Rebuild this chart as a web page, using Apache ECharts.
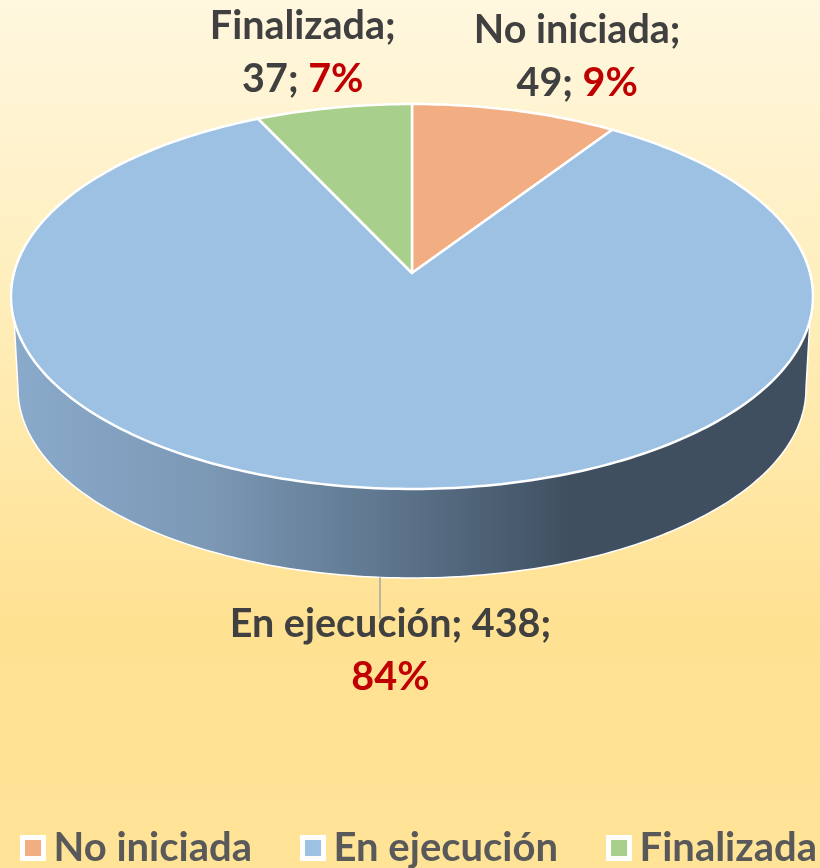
<!DOCTYPE html>
<html>
<head>
<meta charset="utf-8">
<script src="https://cdn.jsdelivr.net/npm/echarts@6/dist/echarts.min.js"></script>
<style>
  html, body { margin: 0; padding: 0; }
  #chart { width: 820px; height: 868px; }
</style>
</head>
<body>
<div id="chart"></div>
<script>
const categories = ["No iniciada", "En ejecución", "Finalizada"];
const values = [49, 438, 37];
const sliceColors = ["#f2ae82", "#9dc1e3", "#a9cf8c"];

const total = values.reduce((a, b) => a + b, 0);

// tilted disc: the circle is projected so that its centre sits above the middle of the ellipse
const disc = { cx: 412, cy: 273, a: 398, b: 189.6, k: 0.122 };
const rimScale = 0.9825;
const rimDrop = 92.8;
const FONT = "Lato, 'Noto Sans', sans-serif";

function project(deg) {
  const t = (deg * Math.PI) / 180;
  const u = Math.sin(t);
  const v = Math.cos(t);
  const w = 1 + disc.k * v;
  return [disc.cx + (disc.a * u) / w, disc.cy - (disc.b * v) / w];
}

function projectRim(deg) {
  const p = project(deg);
  return [
    disc.cx + (p[0] - disc.cx) * rimScale,
    disc.cy + rimDrop + (p[1] - disc.cy) * rimScale,
  ];
}

function sliceAngles(index) {
  let before = 0;
  for (let i = 0; i < index; i++) before += values[i];
  return [(before / total) * 360, ((before + values[index]) / total) * 360];
}

function slicePoints(start, end) {
  const pts = [[disc.cx, disc.cy]];
  for (let d = start; d < end; d += 1) pts.push(project(d));
  pts.push(project(end));
  return pts;
}

function wallShape() {
  const pts = [project(104)];
  for (let d = 97; d <= 263; d += 1) pts.push(projectRim(d));
  pts.push(project(256));
  return pts;
}

// label position relative to the middle of the slice's outer edge
const labelOffsets = [
  [62, -54],
  [11, 162],
  [-31, -55],
];

function labelText(index, value) {
  const pct = Math.round((value / total) * 100) + "%";
  if (index === 1) {
    return `{t|${categories[index]}; ${value};}\n{p|${pct}}`;
  }
  return `{t|${categories[index]};}\n{t|${value}; }{p|${pct}}`;
}

function makeRender(index) {
  return function (params, api) {
    const value = api.value(0);
    const [start, end] = sliceAngles(index);
    const mid = (start + end) / 2;
    const edge = project(mid);
    const children = [];

    if (index === 1) {
      const base = projectRim(mid);
      children.push({
        type: "polygon",
        shape: { points: wallShape() },
        style: {
          fill: {
            type: "linear",
            x: 0, y: 0, x2: 1, y2: 0,
            colorStops: [
              { offset: 0, color: "#8aaacb" },
              { offset: 0.24, color: "#7c99b6" },
              { offset: 0.46, color: "#5f778f" },
              { offset: 0.7, color: "#3f4f60" },
              { offset: 1, color: "#3f4f60" },
            ],
          },
          stroke: "#ffffff",
          lineWidth: 1.5,
          lineJoin: "round",
        },
      });
      children.push({
        type: "line",
        shape: { x1: base[0], y1: base[1], x2: base[0], y2: base[1] + 42 },
        style: { stroke: "#a6a6a6", lineWidth: 1.5 },
        z2: 1,
      });
    }

    children.push({
      type: "polygon",
      shape: { points: slicePoints(start, end) },
      style: {
        fill: sliceColors[index],
        stroke: "#ffffff",
        lineWidth: 2.5,
        lineJoin: "round",
      },
      z2: 2,
    });
    children.push({
      type: "text",
      z2: 3,
      style: {
        x: edge[0] + labelOffsets[index][0],
        y: edge[1] + labelOffsets[index][1],
        align: "center",
        verticalAlign: "middle",
        text: labelText(index, value),
        rich: {
          t: { font: "bold 39.5px " + FONT, fill: "#404040", lineHeight: 53 },
          p: { font: "bold 39.5px " + FONT, fill: "#c00000", lineHeight: 53 },
        },
      },
    });
    return { type: "group", children };
  };
}

const chart = echarts.init(document.getElementById("chart"));
chart.setOption({
  animation: false,
  backgroundColor: {
    type: "linear",
    x: 0, y: 0, x2: 0, y2: 1,
    colorStops: [
      { offset: 0, color: "#fff7df" },
      { offset: 0.35, color: "#ffeebb" },
      { offset: 0.72, color: "#ffe192" },
      { offset: 1, color: "#ffe397" },
    ],
  },
  legend: {
    left: 15,
    top: 823,
    width: 805,
    selectedMode: false,
    itemWidth: 21,
    itemHeight: 21,
    itemGap: 48,
    textStyle: {
      fontFamily: FONT,
      fontWeight: "bold",
      fontSize: 40,
      color: "#595959",
      padding: [0, 0, 0, 5],
    },
    data: categories.map((name, i) => ({
      name,
      icon: "rect",
      itemStyle: { color: sliceColors[i], borderColor: "#ffffff", borderWidth: 5 },
    })),
  },
  series: categories.map((name, i) => ({
    name,
    type: "custom",
    coordinateSystem: "none",
    silent: true,
    itemStyle: { color: sliceColors[i] },
    renderItem: makeRender(i),
    data: [[values[i]]],
  })),
});
</script>
</body>
</html>
